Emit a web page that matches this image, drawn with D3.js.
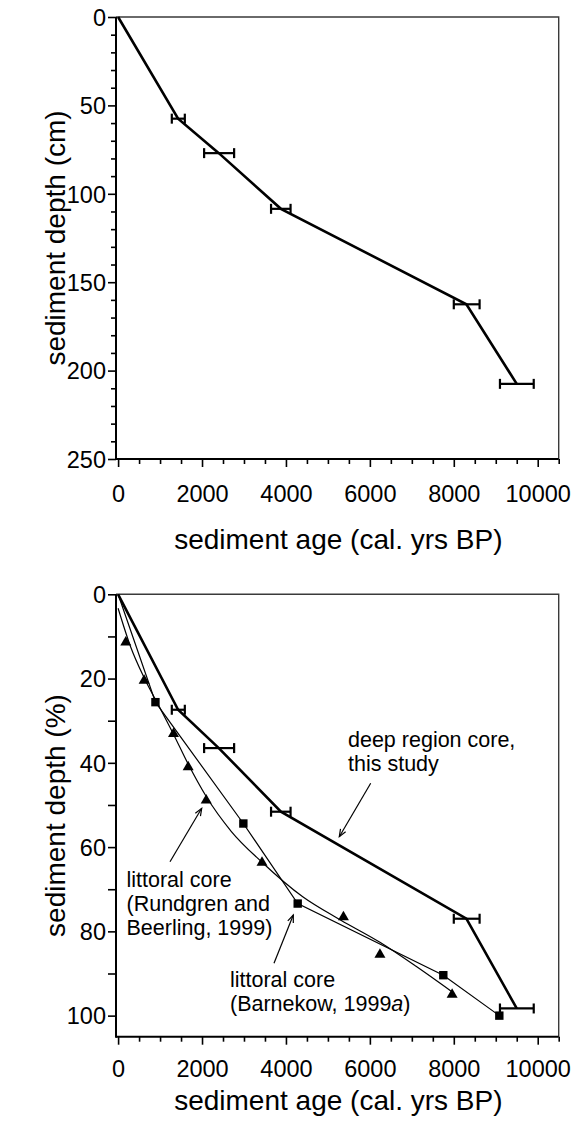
<!DOCTYPE html>
<html>
<head>
<meta charset="utf-8">
<script src="https://cdn.jsdelivr.net/npm/d3@7"></script>
<style>
  html, body { margin: 0; padding: 0; background: #fff; }
  svg { display: block; }
  text { font-family: "Liberation Sans", Arial, sans-serif; fill: #000; }
</style>
</head>
<body>
<svg id="chart" width="574" height="1131"></svg>
<script>
// ---------- data ----------
// deep region core, this study (dated levels + age model)
const deepAges = [0, 1430, 2400, 3880, 8300, 9500];
const deepDepthCm = [0, 57.5, 77, 108.5, 162.5, 207.5];
const deepDepthPct = [0, 27.4, 36.5, 51.6, 77.0, 98.3];
const errLow = [1280, 2050, 3645, 8000, 9100];
const errHigh = [1590, 2765, 4110, 8615, 9905];

// littoral core (Rundgren and Beerling, 1999) - triangles + fitted curve
const rbAges = [183, 620, 1320, 1670, 2100, 3430, 5370, 6240, 7960];
const rbDepth = [11.2, 20.3, 32.9, 40.8, 48.7, 63.5, 76.4, 85.3, 94.8];
const rbCurveAges = [0, 300, 620, 1000, 1320, 1670, 2100, 2700, 3430, 4400, 5300, 6240, 7100, 7950];
const rbCurveDepth = [3.3, 12.5, 19.8, 27, 33.2, 40.3, 48, 56.3, 63.6, 71.8, 77.3, 82.6, 88.3, 94.3];

// littoral core (Barnekow, 1999a) - squares
const barnAges = [0, 890, 2985, 4280, 7750, 9085];
const barnDepth = [0, 25.6, 54.4, 73.4, 90.4, 100];

// axis ticks
const xTickLabels = [0, 2000, 4000, 6000, 8000, 10000];
const yTopTickLabels = [0, 50, 100, 150, 200, 250];
const yBotTickLabels = [0, 20, 40, 60, 80, 100];

// ---------- drawing ----------
const svg = d3.select("#chart");
const FONT_TICK = 23.5, FONT_TITLE = 28, FONT_NOTE = 21.5;

function panel(top, bottom, yDomain, yTicksMajor, yMinorStep, yMinorLen, yTitle, titleY, xTickY) {
  const left = 116, right = 558.7;
  const x = d3.scaleLinear().domain([-50, 10500]).range([left, right]);
  const y = d3.scaleLinear().domain(yDomain).range([top, bottom]);
  const g = svg.append("g");

  // box (top & right)
  g.append("path")
    .attr("d", `M${left},${top}H${right}V${bottom}`)
    .attr("fill", "none").attr("stroke", "#3a3a3a").attr("stroke-width", 1.4);

  // x axis
  const xMinor = d3.range(0, 10501, 500).filter(v => v % 2000 !== 0);
  const xa = g.append("g").attr("transform", `translate(0,${bottom})`);
  xa.call(d3.axisBottom(x).tickValues(xMinor).tickSize(5).tickFormat(""));
  xa.call(g2 => g2.append("g").call(d3.axisBottom(x).tickValues(xTickLabels).tickSize(8).tickFormat(d3.format("d"))));
  xa.selectAll(".domain").remove();
  xa.selectAll("line").attr("stroke", "#000").attr("stroke-width", 1.6);
  xa.selectAll("text").attr("font-size", FONT_TICK).attr("font-family", "Liberation Sans, Arial, sans-serif")
    .attr("fill", "#000").attr("y", xTickY).attr("dy", 0);
  g.append("line").attr("x1", left).attr("x2", right).attr("y1", bottom).attr("y2", bottom)
    .attr("stroke", "#000").attr("stroke-width", 2);

  // y axis
  const yMinor = d3.range(yDomain[0], yDomain[1] + 0.001, yMinorStep).filter(v => !yTicksMajor.includes(v));
  const ya = g.append("g").attr("transform", `translate(${left},0)`);
  ya.call(d3.axisLeft(y).tickValues(yMinor).tickSize(yMinorLen).tickFormat(""));
  ya.call(g2 => g2.append("g").call(d3.axisLeft(y).tickValues(yTicksMajor).tickSize(8).tickFormat(d3.format("d"))));
  ya.selectAll(".domain").remove();
  ya.selectAll("line").attr("stroke", "#000").attr("stroke-width", 1.6);
  ya.selectAll("text").attr("font-size", FONT_TICK).attr("font-family", "Liberation Sans, Arial, sans-serif")
    .attr("fill", "#000").attr("x", -10).attr("dy", "0.35em");
  g.append("line").attr("x1", left).attr("x2", left).attr("y1", top).attr("y2", bottom + 1)
    .attr("stroke", "#000").attr("stroke-width", 2);

  // titles
  g.append("text").attr("x", (left + right) / 2 + 1).attr("y", titleY)
    .attr("text-anchor", "middle").attr("font-size", FONT_TITLE).text("sediment age (cal. yrs BP)");
  g.append("text").attr("transform", `translate(65,${(top + bottom) / 2}) rotate(-90)`)
    .attr("text-anchor", "middle").attr("font-size", FONT_TITLE).text(yTitle);

  return { x, y, g };
}

function deepCore(p, depths) {
  const pts = deepAges.map((a, i) => [a, depths[i]]);
  p.g.append("path").datum(pts)
    .attr("d", d3.line().x(d => p.x(d[0])).y(d => p.y(d[1])))
    .attr("fill", "none").attr("stroke", "#000").attr("stroke-width", 2.6).attr("stroke-linejoin", "miter");
  const eb = errLow.map((lo, i) => ({ lo, hi: errHigh[i], d: depths[i + 1] }));
  const ge = p.g.append("g").attr("stroke", "#000").attr("stroke-width", 2.2);
  ge.selectAll(".h").data(eb).join("line")
    .attr("x1", d => p.x(d.lo)).attr("x2", d => p.x(d.hi))
    .attr("y1", d => p.y(d.d)).attr("y2", d => p.y(d.d));
  ge.selectAll(".l").data(eb).join("line")
    .attr("x1", d => p.x(d.lo)).attr("x2", d => p.x(d.lo))
    .attr("y1", d => p.y(d.d) - 5).attr("y2", d => p.y(d.d) + 5);
  ge.selectAll(".r").data(eb).join("line")
    .attr("x1", d => p.x(d.hi)).attr("x2", d => p.x(d.hi))
    .attr("y1", d => p.y(d.d) - 5).attr("y2", d => p.y(d.d) + 5);
}

// ---- top panel ----
const p1 = panel(17, 459, [0, 250], yTopTickLabels, 10, 5, "sediment depth (cm)", 549, 42.5);
deepCore(p1, deepDepthCm);

// ---- bottom panel ----
const p2 = panel(594.3, 1036.7, [0, 105], yBotTickLabels, 10, 8, "sediment depth (%)", 1110, 40);

// Rundgren & Beerling curve
p2.g.append("path").datum(rbCurveAges.map((a, i) => [a, rbCurveDepth[i]]))
  .attr("d", d3.line().curve(d3.curveMonotoneX).x(d => p2.x(d[0])).y(d => p2.y(d[1])))
  .attr("fill", "none").attr("stroke", "#000").attr("stroke-width", 1.2);
// Barnekow line
p2.g.append("path").datum(barnAges.map((a, i) => [a, barnDepth[i]]))
  .attr("d", d3.line().x(d => p2.x(d[0])).y(d => p2.y(d[1])))
  .attr("fill", "none").attr("stroke", "#000").attr("stroke-width", 1.2);

deepCore(p2, deepDepthPct);

// triangles
p2.g.selectAll(".tri").data(rbAges.map((a, i) => [a, rbDepth[i]])).join("path")
  .attr("d", d => { const cx = p2.x(d[0]), cy = p2.y(d[1]); return `M${cx},${cy - 5.5}L${cx + 5.5},${cy + 4}L${cx - 5.5},${cy + 4}Z`; })
  .attr("fill", "#000");
// squares (no marker at origin)
p2.g.selectAll(".sq").data(barnAges.map((a, i) => [a, barnDepth[i]]).filter((d, i) => i > 0)).join("rect")
  .attr("x", d => p2.x(d[0]) - 4.2).attr("y", d => p2.y(d[1]) - 4.2)
  .attr("width", 8.4).attr("height", 8.4).attr("fill", "#000");

// annotations
function arrow(x1, y1, x2, y2) {
  const g = p2.g.append("g").attr("stroke", "#000").attr("stroke-width", 1.2).attr("fill", "none");
  g.append("line").attr("x1", x1).attr("y1", y1).attr("x2", x2).attr("y2", y2);
  const ang = Math.atan2(y2 - y1, x2 - x1), L = 8, s = 0.38;
  const a1 = ang + Math.PI - s, a2 = ang + Math.PI + s;
  g.append("path").attr("d",
    `M${x2 + L * Math.cos(a1)},${y2 + L * Math.sin(a1)}L${x2},${y2}L${x2 + L * Math.cos(a2)},${y2 + L * Math.sin(a2)}`);
}
function note(x, y0, lines) {
  const t = p2.g.append("text").attr("font-size", FONT_NOTE);
  lines.forEach((ln, i) => {
    const ts = t.append("tspan").attr("x", x).attr("y", y0 + i * 24.3);
    ln.forEach(part => {
      const s = ts.append("tspan").text(part.t);
      if (part.i) s.attr("font-style", "italic");
    });
  });
}
note(348, 747, [[{ t: "deep region core," }], [{ t: "this study" }]]);
arrow(370.7, 783.3, 339.3, 836.7);
note(126.5, 886.5, [[{ t: "littoral core" }], [{ t: "(Rundgren and" }], [{ t: "Beerling, 1999)" }]]);
arrow(170, 861.7, 201.7, 808.3);
note(230, 986.5, [[{ t: "littoral core" }], [{ t: "(Barnekow, 1999" }, { t: "a", i: true }, { t: ")" }]]);
arrow(274, 963.3, 293.3, 915);
</script>
</body>
</html>
